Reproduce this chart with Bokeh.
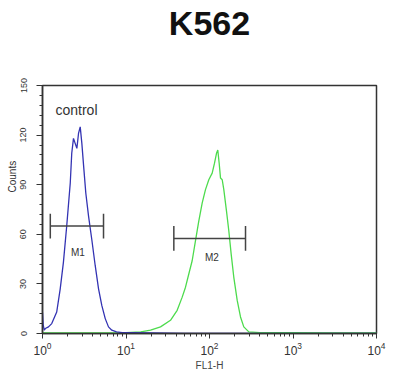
from bokeh.plotting import figure
from bokeh.models import Range1d, Label, SingleIntervalTicker, Title, LinearAxis, FixedTicker
from bokeh.embed import file_html
from bokeh.resources import INLINE

# Control histogram (blue)
ctrl_fl = [1.0, 1.02, 1.05, 1.08, 1.18, 1.29, 1.48, 1.63, 1.78, 1.95, 2.15, 2.24, 2.35, 2.46,
           2.58, 2.70, 2.83, 2.96, 3.10, 3.30, 3.56, 3.89, 4.28, 4.69, 5.13, 5.64, 6.17, 6.76,
           7.7, 9.0, 12, 20, 50, 100, 200, 500, 1000, 3000, 10000]
ctrl_counts = [12.7, 5, 2, 3, 4, 6, 13, 27, 43, 65, 91, 109, 118, 115,
               112, 121, 125, 115, 102, 85, 71, 57, 41, 27, 17, 9, 4, 2,
               1, 0.5, 0.5, 0.3, 0, 0, 0, 0, 0, 0, 0]

# Antibody histogram (green)
ab_fl = [1, 5, 10, 15, 19.7, 25.9, 34.1, 41.0, 47.1, 51.6, 56.5, 62.0, 67.9, 74.4, 81.8, 89.5,
         98.1, 107.7, 114.8, 121.3, 125.7, 130.6, 135.5, 142.0, 148.4, 159.8, 170.4, 181.8,
         195.5, 214.7, 235.2, 257.5, 295.6, 400, 1000, 3000, 10000]
ab_counts = [0.3, 0.4, 0.5, 1, 2, 4, 8, 14, 22, 28, 36, 44, 56, 68, 79, 87,
             93, 97, 103, 109, 111, 103, 94, 93, 87, 74, 62, 48,
             34, 20, 10, 4, 1, 0.5, 0.5, 0.3, 0.3]

# Gates
gate_names = ["M1", "M2"]
gate_lo = [1.24, 37.4]
gate_hi = [5.38, 270]
gate_y = [65, 57.5]
gate_label_x = [2.65, 107]
gate_label_y = [49, 46]

p = figure(width=400, height=389, x_axis_type="log", output_backend="svg",
           toolbar_location=None, x_range=Range1d(1, 10000), y_range=Range1d(0, 150),
           min_border_left=42, min_border_right=24, min_border_top=85, min_border_bottom=56)
p.background_fill_color = "white"
p.border_fill_color = "white"
p.outline_line_color = "#333333"
p.outline_line_width = 1.5
p.grid.visible = False

# title drawn as the label of a bare axis above the frame
title_axis = LinearAxis(ticker=FixedTicker(ticks=[], minor_ticks=[]), bounds=(1, 5164),
                        axis_line_color=None, major_tick_line_color=None,
                        minor_tick_line_color=None, major_tick_in=0, major_tick_out=0,
                        minor_tick_in=0, minor_tick_out=0,
                        axis_label="K562", axis_label_standoff=44,
                        axis_label_text_font="Liberation Sans",
                        axis_label_text_font_style="bold", axis_label_text_font_size="34px",
                        axis_label_text_color="#111111")
p.add_layout(title_axis, "above")

p.line(ab_fl, ab_counts, line_color="#4ddb4d", line_width=1.3)
p.line(ctrl_fl, ctrl_counts, line_color="#3333b3", line_width=1.3)

cap = 7.5
p.segment(x0=gate_lo, y0=gate_y, x1=gate_hi, y1=gate_y, line_color="#444444", line_width=1.5)
p.segment(x0=gate_lo, y0=[g - cap for g in gate_y], x1=gate_lo, y1=[g + cap for g in gate_y],
          line_color="#444444", line_width=1.5)
p.segment(x0=gate_hi, y0=[g - cap for g in gate_y], x1=gate_hi, y1=[g + cap for g in gate_y],
          line_color="#444444", line_width=1.5)
for n, gx, gy in zip(gate_names, gate_label_x, gate_label_y):
    p.add_layout(Label(x=gx, y=gy, text=n, text_align="center", text_baseline="middle",
                       text_font="Liberation Sans", text_font_size="10px", text_color="#333333"))

p.add_layout(Label(x=1.43, y=135, text="control", text_align="left", text_baseline="middle",
                   text_font="Liberation Sans", text_font_size="14px", text_color="#333333"))

# x axis
xa = p.below[0]
xa.axis_label = "FL1-H"
xa.axis_label_text_font = "Liberation Sans"
xa.axis_label_text_font_style = "normal"
xa.axis_label_text_font_size = "10px"
xa.axis_label_standoff = 2
xa.major_label_text_font = "Liberation Sans"
xa.major_label_text_font_size = "12px"
xa.major_label_text_color = "#333333"
xa.axis_line_color = "#333333"
xa.axis_line_width = 1.5
xa.major_tick_line_color = "#333333"
xa.minor_tick_line_color = "#333333"
xa.major_tick_in = 0
xa.major_tick_out = 5
xa.minor_tick_in = 0
xa.minor_tick_out = 3
xa.major_label_standoff = 3

# y axis
ya = p.yaxis[0]
ya.ticker = SingleIntervalTicker(interval=30, num_minor_ticks=5)
ya.axis_label = None
ya.major_label_orientation = "vertical"
ya.major_label_text_font = "Liberation Sans"
ya.major_label_text_font_size = "9px"
ya.major_label_text_color = "#333333"
ya.axis_line_color = "#333333"
ya.axis_line_width = 1.5
ya.major_tick_line_color = "#333333"
ya.minor_tick_line_color = "#333333"
ya.major_tick_in = 0
ya.major_tick_out = 6
ya.minor_tick_in = 0
ya.minor_tick_out = 3
ya.major_label_standoff = 10

p.add_layout(Title(text="Counts", align="left", offset=141, standoff=0,
                   text_font="Liberation Sans", text_font_style="normal",
                   text_font_size="10px", text_color="#333333"), "left")

open("out.html", "w").write(file_html(p, INLINE))
